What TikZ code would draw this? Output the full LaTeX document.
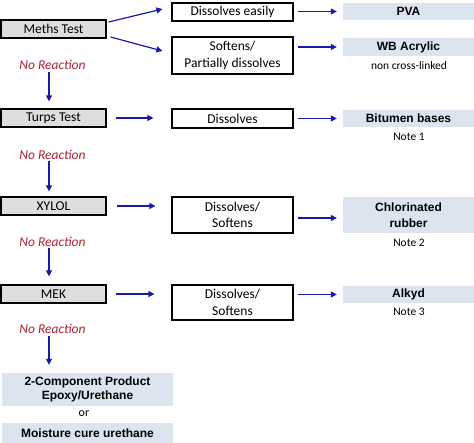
\documentclass[tikz,border=0pt]{standalone}
\usepackage{fontspec}
\setmainfont{Carlito}
\newfontfamily\arialf{Liberation Sans}
\usetikzlibrary{arrows.meta}
\definecolor{grayfill}{HTML}{DEDEDE}
\definecolor{bluefill}{HTML}{DCE4EF}
\definecolor{arrblue}{HTML}{1A1AA8}
\definecolor{nrred}{HTML}{B0202E}
\tikzset{
  testbox/.style={draw=black, line width=1.2pt, fill=grayfill, minimum width=105pt, minimum height=18pt, inner sep=0pt, font=\fontsize{13.5}{16}\selectfont},
  midbox/.style={draw=black, line width=1.2pt, fill=white, minimum width=121pt, inner sep=0pt, align=center, font=\fontsize{13.5}{16.5}\selectfont},
  resbox/.style={fill=bluefill, minimum width=131pt, inner sep=0pt, align=center, font=\arialf\bfseries\fontsize{12}{15.5}\selectfont},
  botbox/.style={fill=bluefill, minimum width=171pt, inner sep=0pt, align=center, font=\arialf\bfseries\fontsize{12}{14.5}\selectfont},
  notetxt/.style={inner sep=0pt, font=\fontsize{11.5}{14}\selectfont},
  nrtxt/.style={inner sep=0pt, text=nrred, font=\itshape\fontsize{13.5}{16}\selectfont},
  arr/.style={draw=arrblue, line width=1.2pt, -{Triangle[length=6pt,width=6pt]}}
}
\begin{document}
\begin{tikzpicture}[x=1pt,y=1pt]
\useasboundingbox (0,0) rectangle (474,-443);
% left test boxes
\node[testbox] (meths) at (53.5,-29) {Meths Test};
\node[testbox] (turps) at (53.5,-118) {Turps Test};
\node[testbox] (xylol) at (53.5,-206) {XYLOL};
\node[testbox] (mek) at (53.5,-294) {MEK};
% no reaction labels
\node[nrtxt] (nr1) at (52.5,-65) {No Reaction};
\node[nrtxt] (nr2) at (52.5,-155) {No Reaction};
\node[nrtxt] (nr3) at (52.5,-242) {No Reaction};
\node[nrtxt] (nr4) at (52.5,-329) {No Reaction};
% middle boxes
\node[midbox, minimum height=18pt] (d1) at (232.5,-12) {Dissolves easily};
\node[midbox, minimum height=37pt] (d2) at (232.5,-55.5) {Softens/\\Partially dissolves};
\node[midbox, minimum height=19pt] (d3) at (232.5,-118.5) {Dissolves};
\node[midbox, minimum height=36pt] (d4) at (232.5,-215) {Dissolves/\\Softens};
\node[midbox, minimum height=35pt] (d5) at (232.5,-302.5) {Dissolves/\\Softens};
% result boxes
\node[resbox, minimum height=17pt] (pva) at (408.5,-11.5) {PVA};
\node[resbox, minimum height=18pt] (wb) at (408.5,-47) {WB Acrylic};
\node[resbox, minimum height=17pt] (bit) at (408.5,-118.5) {Bitumen bases};
\node[resbox, minimum height=36pt] (chl) at (408.5,-215) {Chlorinated\\rubber};
\node[resbox, minimum height=17pt] (alk) at (408.5,-294.5) {Alkyd};
\node[notetxt] (n0) at (409,-66) {non cross-linked};
\node[notetxt] (n1) at (409,-137) {Note 1};
\node[notetxt] (n2) at (409,-243) {Note 2};
\node[notetxt] (n3) at (409,-312) {Note 3};
% bottom boxes
\node[botbox, minimum height=33pt] (epx) at (87.5,-389.5) {2-Component Product\\Epoxy/Urethane};
\node[notetxt, font=\fontsize{12}{14}\selectfont] (or) at (84,-414) {or};
\node[botbox, minimum height=21pt] (moi) at (87.5,-433.5) {Moisture cure urethane};
% arrows left -> middle
\draw[arr] ([xshift=2pt,yshift=7pt]meths.east) -- ([xshift=-9pt,yshift=3pt]d1.west);
\draw[arr] ([xshift=4pt,yshift=-8pt]meths.east) -- ([xshift=-9pt,yshift=4.5pt]d2.west);
\draw[arr, shorten <=9pt, shorten >=18pt] (turps.east) -- (turps.east -| d3.west);
\draw[arr, shorten <=10pt, shorten >=16pt] (xylol.east) -- (xylol.east -| d4.west);
\draw[arr, shorten <=9pt, shorten >=17pt] (mek.east) -- (mek.east -| d5.west);
% arrows middle -> right
\draw[arr, shorten <=4pt, shorten >=6pt] (d1.east |- pva.west) -- (pva.west);
\draw[arr, shorten <=4pt, shorten >=6pt] (d2.east |- wb.west) -- (wb.west);
\draw[arr, shorten <=4pt, shorten >=6pt] (d3.east |- bit.west) -- (bit.west);
\draw[arr, shorten <=4pt, shorten >=6pt] ([yshift=-3pt]d4.east |- chl.west) -- ([yshift=-3pt]chl.west);
\draw[arr, shorten <=4pt, shorten >=6pt] (d5.east |- alk.west) -- (alk.west);
% vertical arrows
\draw[arr, shorten <=2.5pt, shorten >=7pt] ([xshift=-3.5pt]nr1.south) -- ([xshift=-4.5pt]turps.north);
\draw[arr, shorten <=1.5pt, shorten >=5pt] ([xshift=-3.5pt]nr2.south) -- ([xshift=-4.5pt]xylol.north);
\draw[arr, shorten <=1.5pt, shorten >=8pt] ([xshift=-3.5pt]nr3.south) -- ([xshift=-4.5pt]mek.north);
\draw[arr, shorten <=2.5pt, shorten >=8pt] ([xshift=-3.5pt]nr4.south) -- ([xshift=-38.5pt]epx.north);
\end{tikzpicture}
\end{document}
